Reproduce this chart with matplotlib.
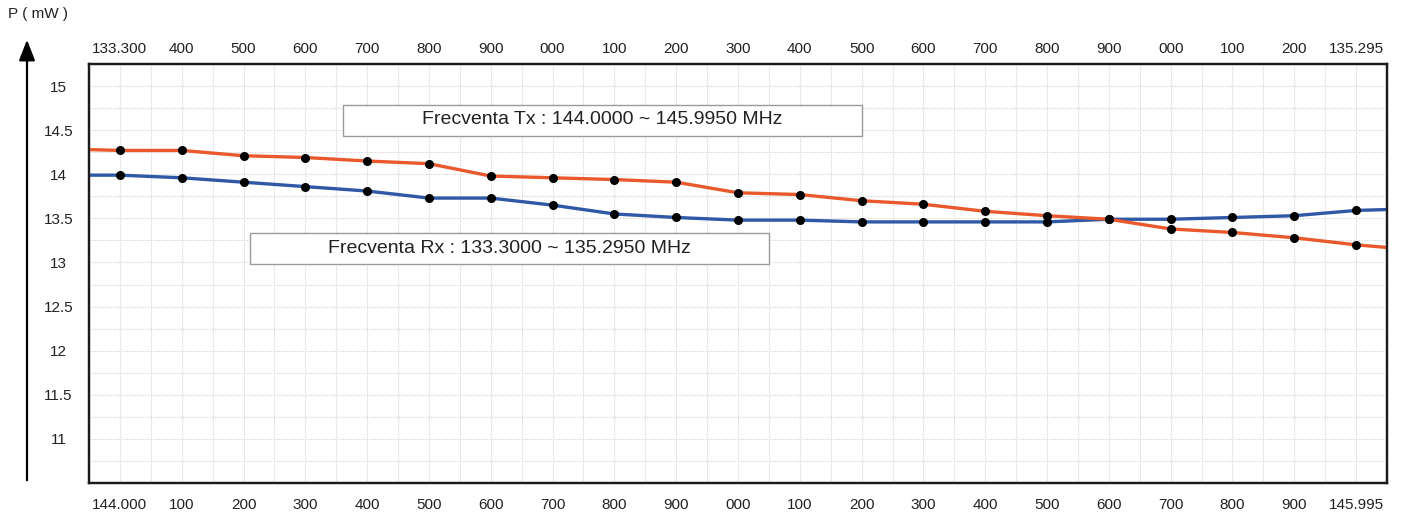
import numpy as np
import matplotlib.pyplot as plt
from matplotlib.patches import Rectangle, FancyArrowPatch

plt.rcParams['font.family'] = ['Liberation Sans', 'DejaVu Sans']

# tick labels (kHz steps of the two bands)
tx_labels = ['144.000', '100', '200', '300', '400', '500', '600', '700', '800', '900',
             '000', '100', '200', '300', '400', '500', '600', '700', '800', '900', '145.995']
rx_labels = ['133.300', '400', '500', '600', '700', '800', '900', '000', '100', '200',
             '300', '400', '500', '600', '700', '800', '900', '000', '100', '200', '135.295']

# power (mW)
tx_power = [14.27, 14.27, 14.21, 14.19, 14.15, 14.12, 13.98, 13.96, 13.94, 13.91, 13.79,
            13.77, 13.70, 13.66, 13.58, 13.53, 13.49, 13.38, 13.34, 13.28, 13.20]
rx_power = [13.99, 13.96, 13.91, 13.86, 13.81, 13.73, 13.73, 13.65, 13.55, 13.51, 13.48,
            13.48, 13.46, 13.46, 13.46, 13.46, 13.49, 13.49, 13.51, 13.53, 13.59]
# where the curves meet the frame on the left / right
tx_edge = [14.28, 13.17]
rx_edge = [13.99, 13.60]

y_ticks = [11, 11.5, 12, 12.5, 13, 13.5, 14, 14.5, 15]

orange = '#E9592C'
blue = '#2F58A6'

fig = plt.figure(figsize=(14.2, 5.15), dpi=100)
ax = fig.add_axes([89 / 1420, 32 / 515, 1298 / 1420, 419 / 515])

n = len(tx_power)
idx = np.arange(n)
line_x = np.concatenate([[-0.5], idx, [n - 0.5]])

ax.plot(line_x, [rx_edge[0]] + rx_power + [rx_edge[1]], color=blue, lw=2.4, zorder=3,
        solid_capstyle='butt')
ax.plot(line_x, [tx_edge[0]] + tx_power + [tx_edge[1]], color=orange, lw=2.4, zorder=3,
        solid_capstyle='butt')
ax.plot(idx, rx_power, 'o', color='black', ms=5.5, zorder=4)
ax.plot(idx, tx_power, 'o', color='black', ms=5.5, zorder=4)

ax.set_xlim(-0.5, n - 0.5)
ax.set_ylim(10.5, 15.25)

ax.set_xticks(idx)
ax.set_xticklabels(tx_labels)
ax.set_xticks(np.arange(-0.5, n, 1.0), minor=True)
ax.set_yticks(y_ticks)
ax.set_yticklabels([('%g' % v) for v in y_ticks])
ax.set_yticks(np.arange(10.75, 15.25, 0.5), minor=True)

ax.grid(True, which='both', color='#d6d6d6', ls=(0, (1.2, 1.2)), lw=0.8, zorder=0)
ax.tick_params(axis='x', which='both', length=0, labelsize=11, pad=11, colors='#222222')
ax.tick_params(axis='y', which='both', length=0, labelsize=11, pad=22, colors='#222222')
for lab in ax.get_yticklabels():
    lab.set_horizontalalignment('center')

ax2 = ax.twiny()
ax2.set_xlim(ax.get_xlim())
ax2.set_xticks(idx)
ax2.set_xticklabels(rx_labels)
ax2.tick_params(axis='x', length=0, labelsize=11, pad=6, colors='#222222')

for a in (ax, ax2):
    for s in a.spines.values():
        s.set_linewidth(1.6)
        s.set_color('#1a1a1a')

# band boxes
boxes = [
    ((343 - 89) / 1298, (483 - 135.5) / 419, 519 / 1298, 31 / 419,
     'Frecventa Tx : 144.0000 ~ 145.9950 MHz'),
    ((250 - 89) / 1298, (483 - 264) / 419, 519 / 1298, 31 / 419,
     'Frecventa Rx : 133.3000 ~ 135.2950 MHz'),
]
for x0, y0, w, h, txt in boxes:
    ax.add_patch(Rectangle((x0, y0), w, h, transform=ax.transAxes, facecolor='white',
                           edgecolor='#9a9a9a', lw=1.0, zorder=5))
    ax.text(x0 + w / 2, y0 + h / 2, txt, transform=ax.transAxes, ha='center', va='center',
            fontsize=14, color='#222222', zorder=6)

# y axis arrow outside the frame
arrow = FancyArrowPatch((27 / 1420, 1 - 483 / 515), (27 / 1420, 1 - 37 / 515),
                        transform=fig.transFigure, arrowstyle='-|>,head_length=0.9,head_width=0.35',
                        mutation_scale=14, color='black', lw=1.6)
fig.add_artist(arrow)
fig.text(8 / 1420, 1 - 14 / 515, 'P ( mW )', ha='left', va='center', fontsize=11,
         color='#222222')

fig.savefig('out.png', dpi=100)
